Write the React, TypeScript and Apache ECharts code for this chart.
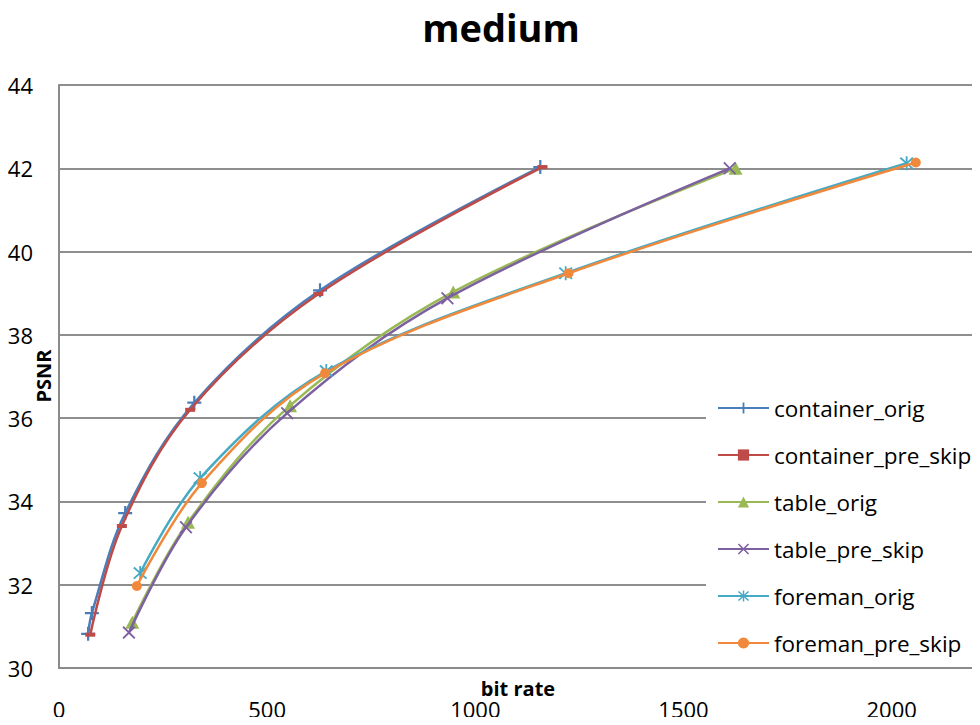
import React, { useEffect, useRef } from "react";
import * as echarts from "echarts";

const seriesNames = [
  "container_orig",
  "container_pre_skip",
  "table_orig",
  "table_pre_skip",
  "foreman_orig",
  "foreman_pre_skip",
];

const containerOrigX = [70, 79, 159, 325, 627, 1156];
const containerOrigY = [30.82, 31.32, 33.72, 36.37, 39.07, 42.03];
const containerPreX = [75, 151, 315, 623, 1161];
const containerPreY = [30.8, 33.41, 36.2, 38.98, 42.03];
const tableOrigX = [176, 310, 555, 947, 1625];
const tableOrigY = [31.1, 33.5, 36.3, 39.03, 42.0];
const tablePreX = [168, 305, 548, 933, 1611];
const tablePreY = [30.85, 33.38, 36.12, 38.88, 42.0];
const foremanOrigX = [195, 339, 642, 1217, 2036];
const foremanOrigY = [32.28, 34.56, 37.13, 39.48, 42.12];
const foremanPreX = [187, 343, 639, 1224, 2058];
const foremanPreY = [31.97, 34.44, 37.08, 39.48, 42.14];

const xTicks = [0, 500, 1000, 1500, 2000];
const yTicks = [30, 32, 34, 36, 38, 40, 42, 44];

const colors = ["#4A7EBB", "#BE4B48", "#98B954", "#7D60A0", "#46AAC5", "#F0893B"];

const PLUS = "path://M4.2,0H5.8V4.2H10V5.8H5.8V10H4.2V5.8H0V4.2H4.2Z";
const CROSS = "path://M0,1L1,0L5,4L9,0L10,1L6,5L10,9L9,10L5,6L1,10L0,9L4,5Z";
const STAR =
  "path://M0,1.5L1,0.5L5,4.3L9,0.5L10,1.5L6,5L10,8.5L9,9.5L5,5.7L1,9.5L0,8.5L4,5Z M4.35,0H5.65V10H4.35Z";
const DASH = "path://M0,0H10V4H0Z";

const zip = (xs: number[], ys: number[]) => xs.map((x, i) => [x, ys[i]]);

const FONT = "'Open Sans', 'Noto Sans', sans-serif";

export default function App() {
  const ref = useRef<HTMLDivElement>(null);
  useEffect(() => {
    if (!ref.current) return;
    const chart = echarts.init(ref.current, undefined, { renderer: "svg" });
    const datasets = [
      zip(containerOrigX, containerOrigY),
      zip(containerPreX, containerPreY),
      zip(tableOrigX, tableOrigY),
      zip(tablePreX, tablePreY),
      zip(foremanOrigX, foremanOrigY),
      zip(foremanPreX, foremanPreY),
    ];
    const symbols: any[] = [PLUS, DASH, "triangle", CROSS, STAR, "circle"];
    const sizes: any[] = [14, [10, 4], [14, 13], 13, 14, 10];
    const series = datasets.map((d, i) => ({
      name: seriesNames[i],
      type: "line",
      data: d,
      smooth: 0.35,
      symbol: symbols[i],
      symbolSize: sizes[i],
      showSymbol: true,
      lineStyle: { color: colors[i], width: 2.5 },
      itemStyle: { color: colors[i], borderWidth: 0 },
      z: 3 + i,
    }));
    chart.setOption({
      animation: false,
      backgroundColor: "#ffffff",
      color: colors,
      grid: { left: 59, right: 3, top: 85, bottom: 57, containLabel: false },
      xAxis: {
        type: "value",
        min: 0,
        max: 2205,
        interval: 500,
        axisLine: { show: true, lineStyle: { color: "#8a8a8a", width: 2 } },
        axisTick: { show: false },
        splitLine: { show: false },
        axisLabel: {
          margin: 33,
          fontSize: 22,
          lineHeight: 16,
          color: "#000",
          fontFamily: FONT,
          formatter: (v: number) => (xTicks.includes(v) ? String(v) : ""),
        },
      },
      yAxis: {
        type: "value",
        min: 30,
        max: 44,
        interval: 2,
        axisLine: { show: true, lineStyle: { color: "#8a8a8a", width: 2 } },
        axisTick: { show: false },
        splitLine: { show: true, lineStyle: { color: "#8e8e8e", width: 2 } },
        axisLabel: {
          margin: 26,
          fontSize: 22,
          color: "#000",
          fontFamily: FONT,
          formatter: (v: number) => (yTicks.includes(v) ? String(v) : ""),
        },
      },
      legend: {
        orient: "vertical",
        left: 706,
        top: 385,
        padding: [10, 6, 8, 11],
        backgroundColor: "#ffffff",
        itemWidth: 51,
        itemHeight: 14,
        itemGap: 21,
        textStyle: { fontSize: 22.5, lineHeight: 26, color: "#000", fontFamily: FONT },
        data: seriesNames,
      },
      graphic: [
        {
          type: "text",
          x: 501,
          y: 27,
          style: {
            text: "medium",
            fontSize: 38,
            fontWeight: "bold",
            fontFamily: FONT,
            fill: "#000",
            textAlign: "center",
            textVerticalAlign: "middle",
          },
        },
        {
          type: "text",
          x: 518,
          y: 688,
          style: {
            text: "bit rate",
            fontSize: 20,
            lineHeight: 18,
            fontWeight: "bold",
            fontFamily: FONT,
            fill: "#000",
            textAlign: "center",
            textVerticalAlign: "middle",
          },
        },
        {
          type: "text",
          x: 43,
          y: 376,
          rotation: Math.PI / 2,
          style: {
            text: "PSNR",
            fontSize: 20,
            fontWeight: "bold",
            fontFamily: FONT,
            fill: "#000",
            textAlign: "center",
            textVerticalAlign: "middle",
          },
        },
      ],
      series,
    });
    return () => chart.dispose();
  }, []);
  return <div ref={ref} style={{ width: 980, height: 725, margin: -8 }} />;
}
